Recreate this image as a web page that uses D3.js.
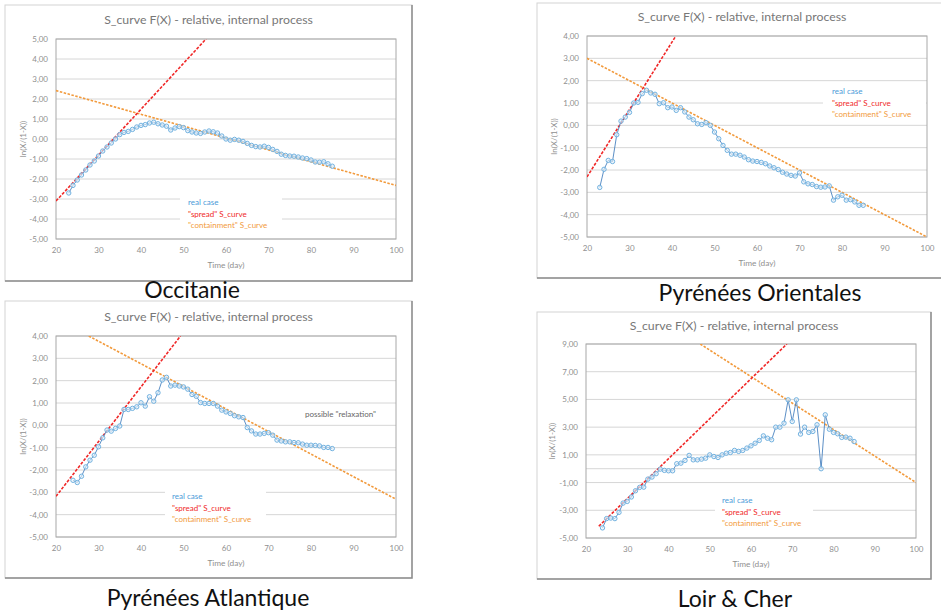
<!DOCTYPE html>
<html>
<head>
<meta charset="utf-8">
<script src="https://cdn.jsdelivr.net/npm/d3@7"></script>
<style>
  body { margin: 0; background: #fff; }
  svg { display: block; font-family: Lato, "Open Sans", sans-serif; }
</style>
</head>
<body>
<svg id="chart" width="941" height="613"></svg>
<script>
// ---- data ----
const chartTitle = 'S_curve F(X) - relative, internal process';
const xTicks = [20, 30, 40, 50, 60, 70, 80, 90, 100];
const legendLabels = ['real case', '"spread" S_curve', '"containment" S_curve'];

// Occitanie, days 23..85
const occStart = 23;
const occValues = [-2.70, -2.32, -2.05, -1.80, -1.55, -1.30, -1.10, -0.85, -0.60, -0.40,
  -0.20, 0.00, 0.22, 0.33, 0.38, 0.48, 0.60, 0.68, 0.72, 0.80,
  0.84, 0.76, 0.70, 0.64, 0.45, 0.55, 0.62, 0.57, 0.42, 0.35,
  0.30, 0.28, 0.35, 0.40, 0.36, 0.30, 0.15, 0.00, -0.06, -0.02,
  -0.06, -0.12, -0.22, -0.32, -0.38, -0.40, -0.36, -0.42, -0.52, -0.62,
  -0.76, -0.82, -0.85, -0.86, -0.90, -0.95, -0.98, -1.05, -1.15, -1.16,
  -1.14, -1.24, -1.36];
const occSpread = [[20, -3.1], [55.3, 5.0]];
const occContain = [[20, 2.42], [100, -2.32]];
const occYTicks = [5, 4, 3, 2, 1, 0, -1, -2, -3, -4, -5];

// Pyrénées Orientales, days 23..85
const porStart = 23;
const porValues = [-2.78, -1.97, -1.57, -1.62, -0.42, 0.19, 0.37, 0.58, 1.00, 1.03,
  1.42, 1.57, 1.45, 1.39, 0.97, 1.01, 0.79, 0.82, 0.67, 0.79,
  0.60, 0.37, 0.25, 0.07, 0.04, 0.12, 0.00, -0.30, -0.60, -0.90,
  -1.12, -1.29, -1.29, -1.34, -1.42, -1.54, -1.60, -1.62, -1.66, -1.72,
  -1.82, -1.90, -1.98, -2.10, -2.18, -2.24, -2.27, -2.13, -2.53, -2.62,
  -2.65, -2.74, -2.77, -2.76, -2.71, -3.35, -3.20, -3.13, -3.35, -3.33,
  -3.43, -3.58, -3.58];
const porSpread = [[20, -2.31], [40.9, 4.0]];
const porContain = [[20, 3.0], [100, -5.0]];
const porYTicks = [4, 3, 2, 1, 0, -1, -2, -3, -4, -5];

// Pyrénées Atlantique, days 24..85
const patStart = 24;
const patValues = [-2.46, -2.56, -2.28, -1.86, -1.56, -1.34, -0.96, -0.56, -0.21, -0.26,
  -0.14, -0.03, 0.71, 0.71, 0.76, 0.83, 1.01, 0.86, 1.28, 1.08,
  1.46, 2.03, 2.15, 1.76, 1.80, 1.76, 1.72, 1.62, 1.38, 1.30,
  1.02, 0.98, 0.98, 0.98, 0.86, 0.68, 0.60, 0.53, 0.43, 0.38,
  0.35, -0.10, -0.25, -0.39, -0.39, -0.36, -0.33, -0.44, -0.66, -0.70,
  -0.74, -0.74, -0.77, -0.78, -0.84, -0.89, -0.89, -0.90, -0.92, -0.99,
  -0.99, -1.04];
const patSpread = [[20, -3.18], [49.3, 4.0]];
const patContain = [[27.7, 4.0], [100, -3.31]];
const patYTicks = porYTicks;
const patNote = 'possible "relaxation"';

// Loir & Cher, days 24..85
const lcStart = 24;
const lcValues = [-4.27, -3.60, -3.56, -3.60, -3.15, -2.48, -2.36, -2.04, -1.59, -1.35,
  -1.33, -0.75, -0.60, -0.36, -0.03, -0.12, -0.15, -0.15, 0.36, 0.40,
  0.60, 0.96, 0.64, 0.64, 0.69, 0.76, 1.00, 0.88, 0.81, 1.00,
  1.12, 1.17, 1.32, 1.25, 1.32, 1.49, 1.65, 1.84, 2.04, 2.37,
  2.20, 2.09, 3.00, 3.00, 3.29, 4.97, 3.41, 4.97, 2.50, 3.00,
  2.62, 2.69, 3.17, 0.00, 3.89, 2.85, 2.62, 2.52, 2.26, 2.28,
  2.20, 1.96];
const lcSpread = [[23.1, -4.15], [68.7, 9.0]];
const lcContain = [[47.7, 9.0], [100, -1.0]];
const lcYTicks = [9, 7, 5, 3, 1, -1, -3, -5];

const regionNames = ['Occitanie', 'Pyrénées Orientales', 'Pyrénées Atlantique', 'Loir & Cher'];

// ---- drawing ----
const svg = d3.select('#chart');
const fmt = d3.formatLocale({decimal: ',', thousands: '.', grouping: [3], currency: ['', ''], minus: '-'}).format('.2f');

const blueLine = '#4a82bf', blueMark = '#72b2e0', redCol = '#f02828', orangeCol = '#f29a3c';

function drawPanel(p) {
  let g = svg.append('g');

  // frame with shadow on right/bottom
  g.append('rect').attr('x', p.frame[0]).attr('y', p.frame[1])
    .attr('width', p.frame[2]).attr('height', p.frame[3])
    .attr('fill', '#fff').attr('stroke', '#d4d4d4');
  g.append('path')
    .attr('d', `M${p.frame[0] + p.frame[2]},${p.frame[1]}V${p.frame[1] + p.frame[3]}H${p.frame[0]}`)
    .attr('fill', 'none').attr('stroke', '#8c8c8c').attr('stroke-width', 1.5);

  let x = d3.scaleLinear().domain([20, 100]).range([p.plot[0], p.plot[1]]);
  let y = d3.scaleLinear().domain(p.yDomain).range([p.plot[3], p.plot[2]]);

  // gridlines
  g.selectAll('line.grid').data(p.grid).enter().append('line')
    .attr('class', 'grid')
    .attr('x1', p.plot[0]).attr('x2', p.plot[1])
    .attr('y1', d => y(d)).attr('y2', d => y(d))
    .attr('stroke', '#d6d6d6').attr('stroke-width', 1);

  // white boxes behind legend
  p.boxes.forEach(b => {
    g.append('rect').attr('x', b[0]).attr('y', b[1]).attr('width', b[2]).attr('height', b[3]).attr('fill', '#fff');
  });

  g.append('rect').attr('x', p.plot[0]).attr('y', p.plot[2])
    .attr('width', p.plot[1] - p.plot[0]).attr('height', p.plot[3] - p.plot[2])
    .attr('fill', 'none').attr('stroke', '#a8a8a8');

  // axes
  let yAxis = d3.axisLeft(y).tickValues(p.yTicks).tickFormat(fmt).tickSize(0).tickPadding(8);
  let ya = g.append('g').attr('transform', `translate(${p.plot[0]},0)`).call(yAxis);
  let xAxis = d3.axisBottom(x).tickValues(xTicks).tickSize(0).tickPadding(8);
  let xa = g.append('g').attr('transform', `translate(0,${p.plot[3]})`).call(xAxis);
  [ya, xa].forEach(a => {
    a.select('.domain').remove();
    a.selectAll('text').attr('fill', '#8f8f8f').style('font-size', '8px').style('font-family', 'Lato, sans-serif');
  });

  // titles
  g.append('text').attr('x', p.frame[0] + p.frame[2] / 2).attr('y', p.titleY)
    .attr('text-anchor', 'middle').attr('fill', '#777').style('font-size', '12.3px').text(chartTitle);
  g.append('text').attr('x', (p.plot[0] + p.plot[1]) / 2).attr('y', p.plot[3] + 29)
    .attr('text-anchor', 'middle').attr('fill', '#8f8f8f').style('font-size', '8.3px').text('Time (day)');
  g.append('text')
    .attr('transform', `translate(${p.yLabelX},${(p.plot[2] + p.plot[3]) / 2}) rotate(-90)`)
    .attr('text-anchor', 'middle').attr('fill', '#8f8f8f').style('font-size', '8px').text('ln(X/(1-X))');

  // clip
  let clipId = 'clip' + p.id;
  svg.append('clipPath').attr('id', clipId).append('rect')
    .attr('x', p.plot[0]).attr('y', p.plot[2])
    .attr('width', p.plot[1] - p.plot[0]).attr('height', p.plot[3] - p.plot[2]);
  let inner = g.append('g').attr('clip-path', `url(#${clipId})`);

  let line = d3.line().x(d => x(d[0])).y(d => y(d[1]));

  // fitted lines
  inner.append('path').datum(p.contain).attr('d', line)
    .attr('fill', 'none').attr('stroke', orangeCol).attr('stroke-width', 1.6).attr('stroke-dasharray', '2.5,1.5');
  inner.append('path').datum(p.spread).attr('d', line)
    .attr('fill', 'none').attr('stroke', redCol).attr('stroke-width', 1.6).attr('stroke-dasharray', '3,1.5');

  // real case
  let pts = p.values.map((v, i) => [p.start + i, v]);
  inner.append('path').datum(pts).attr('d', line)
    .attr('fill', 'none').attr('stroke', blueLine).attr('stroke-width', 0.9);
  inner.selectAll('circle').data(pts).enter().append('circle')
    .attr('cx', d => x(d[0])).attr('cy', d => y(d[1])).attr('r', 2.2)
    .attr('fill', '#e6f1fa').attr('fill-opacity', 0.6)
    .attr('stroke', blueMark).attr('stroke-width', 1);

  // legend
  let legCols = ['#4a9ad8', redCol, orangeCol];
  g.selectAll('text.leg').data(legendLabels).enter().append('text')
    .attr('class', 'leg')
    .attr('x', p.legend[0]).attr('y', (d, i) => p.legend[1] + i * 11.5)
    .attr('fill', (d, i) => legCols[i]).style('font-size', '8px').text(d => d);

  if (p.note) {
    g.append('text').attr('x', p.note[0]).attr('y', p.note[1])
      .attr('fill', '#666').style('font-size', '8px').text(p.note[2]);
  }

  // region name
  svg.append('text').attr('x', p.name[0]).attr('y', p.name[1])
    .attr('text-anchor', 'middle').attr('fill', '#111').style('font-size', '23px')
    .text(p.name[2]);
}

drawPanel({
  id: 1, frame: [5, 5, 407, 276], plot: [56, 396, 39, 239], yDomain: [-5, 5],
  yTicks: occYTicks, grid: occYTicks, titleY: 24, yLabelX: 26,
  values: occValues, start: occStart, spread: occSpread, contain: occContain,
  boxes: [[180, 195, 102, 36]], legend: [188, 205],
  name: [192, 298, regionNames[0]]
});
drawPanel({
  id: 2, frame: [537, 3, 410, 275], plot: [587, 927, 36, 237], yDomain: [-5, 4],
  yTicks: porYTicks, grid: porYTicks, titleY: 21, yLabelX: 557,
  values: porValues, start: porStart, spread: porSpread, contain: porContain,
  boxes: [[823, 84, 103, 37]], legend: [832, 94],
  name: [760, 301, regionNames[1]]
});
drawPanel({
  id: 3, frame: [5, 301, 407, 277], plot: [56, 396, 336, 537], yDomain: [-5, 4],
  yTicks: patYTicks, grid: patYTicks, titleY: 321, yLabelX: 26,
  values: patValues, start: patStart, spread: patSpread, contain: patContain,
  boxes: [[165, 489, 101, 37]], legend: [172, 499],
  note: [305, 417, patNote],
  name: [208, 606, regionNames[2]]
});
drawPanel({
  id: 4, frame: [537, 312, 394, 267], plot: [586, 916, 344, 538], yDomain: [-5, 9],
  yTicks: lcYTicks, grid: lcYTicks.concat([0]), titleY: 330, yLabelX: 555,
  values: lcValues, start: lcStart, spread: lcSpread, contain: lcContain,
  boxes: [[715, 493, 98, 36]], legend: [722, 503],
  name: [735, 607, regionNames[3]]
});
</script>
</body>
</html>
